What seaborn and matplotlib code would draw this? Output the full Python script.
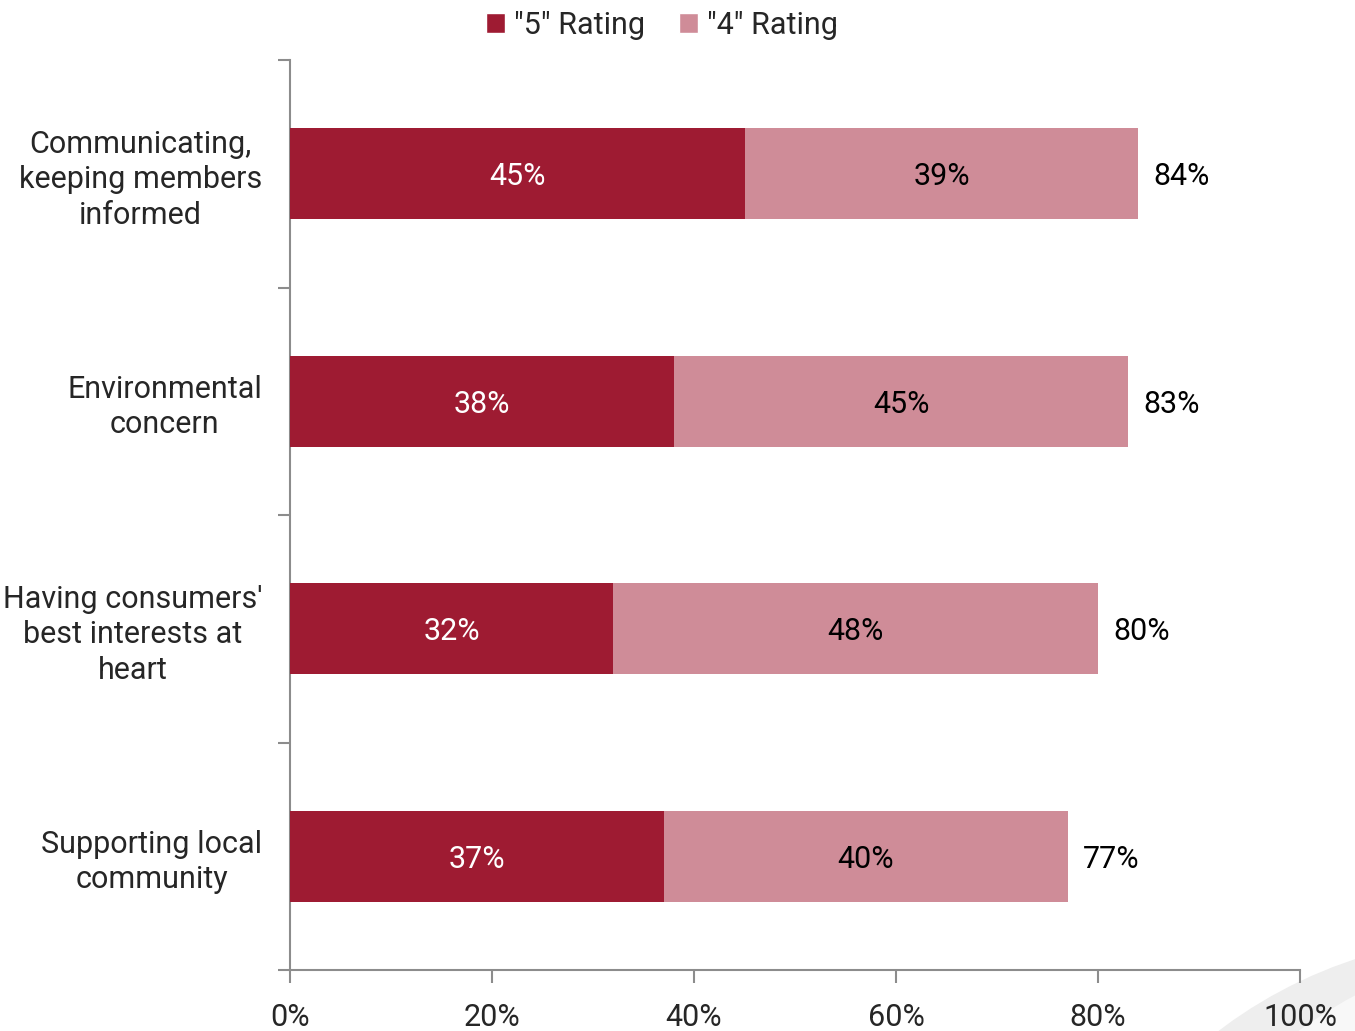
import matplotlib
matplotlib.use("Agg")
import matplotlib.pyplot as plt
import seaborn as sns
import pandas as pd
from matplotlib.patches import Circle, Patch
from matplotlib.ticker import FixedLocator

categories = [
    "Communicating,\nkeeping members\ninformed",
    "Environmental\nconcern",
    "Having consumers'\nbest interests at\nheart",
    "Supporting local\ncommunity",
]
rating5 = [45, 38, 32, 37]
rating4 = [39, 45, 48, 40]
totals = [84, 83, 80, 77]
x_ticks = [0, 20, 40, 60, 80, 100]

dark = "#9E1B32"
pink = "#CF8C98"
FS = 22

sns.set_theme(style="white")
plt.rcParams["font.family"] = ["Roboto", "DejaVu Sans"]

df = pd.DataFrame({"cat": categories, "r5": rating5, "r4": rating4, "total": totals})

fig = plt.figure(figsize=(13.55, 10.31), dpi=100)
ax = fig.add_axes([290 / 1355, 1 - 970 / 1031, 1010 / 1355, 910 / 1031])

# faint background swoosh in the lower right corner
outer = Circle((15.0, -3.7), 4.65, transform=fig.dpi_scale_trans,
               facecolor="#EEEEEE", edgecolor="none", zorder=-10)
inner = Circle((15.9, -4.0), 4.95, transform=fig.dpi_scale_trans,
               facecolor="#F8F8F8", edgecolor="none", zorder=-9)
fig.patches.extend([outer, inner])

sns.barplot(data=df, x="total", y="cat", color=pink, width=0.4, linewidth=0,
            orient="h", ax=ax, saturation=1, zorder=2)
sns.barplot(data=df, x="r5", y="cat", color=dark, width=0.4, linewidth=0,
            orient="h", ax=ax, saturation=1, zorder=3)

for i, (a, b, t) in enumerate(zip(rating5, rating4, totals)):
    ax.text(a / 2, i, f"{a}%", ha="center", va="center_baseline", color="white", fontsize=FS, zorder=5)
    ax.text(a + b / 2, i, f"{b}%", ha="center", va="center_baseline", color="black", fontsize=FS, zorder=5)
    ax.text(t + 1.5, i, f"{t}%", ha="left", va="center_baseline", color="black", fontsize=FS, zorder=5)

ax.set_xlim(0, 100)
ax.set_ylim(3.5, -0.5)
ax.set_xticks(x_ticks)
ax.set_xticklabels([f"{v}%" for v in x_ticks], fontsize=FS)
ax.set_yticks(range(len(categories)))
ax.set_yticklabels(categories, fontsize=FS, multialignment="center", linespacing=1.27)
ax.yaxis.set_minor_locator(FixedLocator([-0.5, 0.5, 1.5, 2.5, 3.5]))
ax.tick_params(axis="y", which="major", length=0, pad=20)
ax.tick_params(axis="y", which="minor", length=9, width=1.5, color="#8C8C8C", left=True)
ax.tick_params(axis="x", which="major", length=9, width=1.5, color="#8C8C8C",
               bottom=True, pad=15)
ax.set_xlabel("")
ax.set_ylabel("")

for side in ["top", "right"]:
    ax.spines[side].set_visible(False)
for side in ["left", "bottom"]:
    ax.spines[side].set_color("#8C8C8C")
    ax.spines[side].set_linewidth(1.5)
ax.set_facecolor("none")
ax.grid(False)

handles = [Patch(facecolor=dark, label='"5" Rating'), Patch(facecolor=pink, label='"4" Rating')]
fig.legend(handles=handles, loc="center", bbox_to_anchor=(662 / 1355, 1 - 25 / 1031),
           ncol=2, frameon=False, fontsize=FS, handlelength=0.62, handleheight=0.62,
           handletextpad=0.3, columnspacing=1.1)

fig.savefig("out.png", dpi=100)
